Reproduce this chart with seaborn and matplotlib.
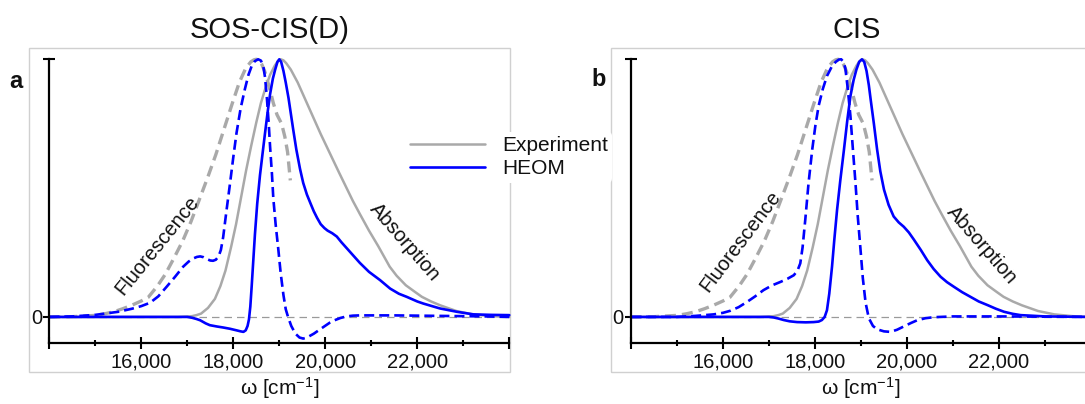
import matplotlib
matplotlib.use("Agg")
import matplotlib.pyplot as plt
from matplotlib.patches import Rectangle
from matplotlib.lines import Line2D
import seaborn as sns

# ---------------- data ----------------
titles = ["SOS-CIS(D)", "CIS"]
panel_letters = ["a", "b"]
legend_labels = ["Experiment", "HEOM"]
xtick_major = [14000, 16000, 18000, 20000, 22000, 24000]
xtick_labels = ["", "16,000", "18,000", "20,000", "22,000", ""]
xtick_minor = [15000, 17000, 19000, 21000, 23000]

# Experiment absorption (same in both panels)
exp_abs_w = [14000, 16000, 16800, 17100, 17200, 17300, 17450, 17600, 17720, 17830,
             17950, 18060, 18170, 18280, 18390, 18500, 18600, 18710, 18800, 18900,
             18970, 19030, 19090, 19150, 19250, 19400, 19550, 19700, 19900, 20100,
             20300, 20450, 20600, 20750, 20950, 21150, 21400, 21550, 21750, 21950,
             22100, 22300, 22500, 22850, 23200, 23600, 24000]
exp_abs_v = [0.0, 0.0, 0.0, 0.003, 0.007, 0.013, 0.035, 0.07, 0.12, 0.18,
             0.27, 0.36, 0.465, 0.57, 0.665, 0.755, 0.83, 0.895, 0.94, 0.975,
             0.993, 1.0, 0.996, 0.985, 0.96, 0.91, 0.85, 0.79, 0.71, 0.635,
             0.56, 0.505, 0.45, 0.40, 0.335, 0.275, 0.195, 0.16, 0.123, 0.097,
             0.078, 0.06, 0.045, 0.023, 0.01, 0.003, 0.0]

# Experiment fluorescence (same in both panels)
exp_fl_w = [14000, 14500, 15000, 15200, 15400, 15600, 15800, 16000, 16150, 16350,
            16520, 16700, 16900, 17080, 17250, 17440, 17620, 17800, 17980, 18130,
            18270, 18380, 18450, 18500, 18560, 18620, 18680, 18730, 18800, 18870,
            18950, 19050, 19120, 19180, 19240]
exp_fl_v = [0.0, 0.001, 0.006, 0.012, 0.02, 0.032, 0.046, 0.062, 0.076, 0.12,
            0.165, 0.225, 0.295, 0.37, 0.45, 0.54, 0.63, 0.73, 0.83, 0.91,
            0.965, 0.99, 0.998, 1.0, 0.997, 0.98, 0.955, 0.925, 0.88, 0.83,
            0.785, 0.75, 0.70, 0.64, 0.53]

# HEOM, panel a (SOS-CIS(D))
a_fl_w = [14000, 14500, 15000, 15500, 15800, 16000, 16190, 16370, 16550, 16730,
          16910, 17030, 17130, 17210, 17280, 17350, 17420, 17500, 17560, 17620,
          17680, 17730, 17780, 17850, 17930, 18000, 18070, 18160, 18250, 18330,
          18400, 18470, 18540, 18600, 18650, 18690, 18730, 18770, 18800, 18840,
          18870, 18920, 18980, 19030, 19090, 19140, 19190, 19260, 19350, 19440,
          19520, 19600, 19750, 19960, 20100, 20200, 20330, 20460, 20600, 20750,
          21500, 22500, 23500, 24000]
a_fl_v = [0.0, 0.002, 0.008, 0.02, 0.032, 0.042, 0.055, 0.08, 0.117, 0.155,
          0.195, 0.215, 0.227, 0.233, 0.235, 0.232, 0.225, 0.219, 0.218, 0.222,
          0.235, 0.26, 0.31, 0.41, 0.52, 0.62, 0.714, 0.81, 0.883, 0.94,
          0.974, 0.993, 1.0, 0.995, 0.975, 0.93, 0.85, 0.75, 0.66, 0.555,
          0.46, 0.36, 0.26, 0.17, 0.085, 0.03, 0.0, -0.035, -0.065, -0.08,
          -0.084, -0.08, -0.065, -0.039, -0.022, -0.013, -0.004, 0.002, 0.005, 0.006,
          0.006, 0.004, 0.002, 0.0]
a_abs_w = [14000, 16500, 17000, 17100, 17200, 17280, 17400, 17490, 17640, 17780,
           17930, 18070, 18160, 18220, 18270, 18310, 18340, 18370, 18400, 18435,
           18470, 18520, 18580, 18640, 18690, 18750, 18800, 18860, 18910, 18960,
           19000, 19040, 19090, 19140, 19200, 19250, 19300, 19370, 19450, 19520,
           19600, 19680, 19750, 19820, 19900, 19980, 20050, 20150, 20250, 20350,
           20450, 20600, 20750, 20950, 21190, 21410, 21600, 21770, 22000, 22130,
           22490, 22860, 23220, 23600, 24000]
a_abs_v = [0.0, 0.0, 0.0, -0.003, -0.008, -0.013, -0.025, -0.032, -0.037, -0.041,
           -0.046, -0.052, -0.056, -0.058, -0.052, -0.035, -0.01, 0.04, 0.12, 0.22,
           0.32, 0.44, 0.55, 0.64, 0.714, 0.80, 0.865, 0.925, 0.96, 0.99,
           1.0, 0.99, 0.955, 0.91, 0.85, 0.79, 0.73, 0.65, 0.575, 0.52,
           0.475, 0.44, 0.41, 0.385, 0.36, 0.345, 0.335, 0.325, 0.312, 0.29,
           0.27, 0.24, 0.21, 0.175, 0.143, 0.11, 0.09, 0.078, 0.06, 0.052,
           0.033, 0.02, 0.01, 0.008, 0.007]

# HEOM, panel b (CIS)
b_fl_w = [14000, 15000, 15400, 15800, 16000, 16160, 16340, 16520, 16700, 16880,
          17060, 17250, 17400, 17540, 17620, 17680, 17730, 17790, 17860, 17940,
          18010, 18080, 18170, 18260, 18360, 18450, 18520, 18570, 18620, 18660,
          18710, 18770, 18820, 18880, 18930, 18990, 19040, 19100, 19170, 19260,
          19350, 19500, 19640, 19780, 19930, 20080, 20220, 20400, 20580, 21000,
          22000, 23000, 24000]
b_fl_v = [0.0, 0.0, 0.004, 0.01, 0.016, 0.024, 0.038, 0.058, 0.08, 0.104,
          0.122, 0.136, 0.148, 0.162, 0.18, 0.208, 0.27, 0.38, 0.52, 0.65,
          0.745, 0.82, 0.885, 0.935, 0.97, 0.99, 0.999, 1.0, 0.99, 0.965,
          0.89, 0.78, 0.66, 0.52, 0.39, 0.26, 0.15, 0.055, -0.005, -0.035,
          -0.048, -0.056, -0.058, -0.05, -0.037, -0.024, -0.013, -0.005, -0.001, 0.002,
          0.002, 0.001, 0.0]
b_abs_w = [14000, 16500, 17000, 17100, 17200, 17320, 17450, 17610, 17800, 17970,
           18080, 18150, 18210, 18260, 18310, 18370, 18420, 18480, 18550, 18630,
           18700, 18770, 18840, 18900, 18960, 19020, 19070, 19120, 19170, 19210,
           19280, 19350, 19420, 19500, 19600, 19710, 19820, 19930, 20040, 20150,
           20300, 20440, 20580, 20730, 20870, 21020, 21200, 21380, 21560, 21750,
           21930, 22110, 22300, 22470, 23000, 24000]
b_abs_v = [0.0, 0.0, 0.0, -0.002, -0.006, -0.012, -0.017, -0.02, -0.021, -0.02,
           -0.018, -0.012, 0.0, 0.026, 0.09, 0.195, 0.30, 0.416, 0.53, 0.65,
           0.76, 0.857, 0.92, 0.96, 0.99, 1.0, 0.99, 0.955, 0.90, 0.844,
           0.75, 0.65, 0.565, 0.494, 0.435, 0.39, 0.367, 0.35, 0.328, 0.30,
           0.26, 0.22, 0.186, 0.156, 0.135, 0.117, 0.096, 0.078, 0.06, 0.046,
           0.032, 0.02, 0.012, 0.007, 0.002, 0.0]

heom_fl = [(a_fl_w, a_fl_v), (b_fl_w, b_fl_v)]
heom_abs = [(a_abs_w, a_abs_v), (b_abs_w, b_abs_v)]

# ---------------- style ----------------
sns.set_theme(style="white")
plt.rcParams['font.family'] = ['Liberation Sans', 'DejaVu Sans']
plt.rcParams['mathtext.fontset'] = 'custom'
plt.rcParams['mathtext.rm'] = 'Liberation Sans'
plt.rcParams['mathtext.it'] = 'Liberation Sans:italic'

GRAY = "#a9a9a9"
BLUE = "#0000ff"
TXT = "#111111"
W, H = 1085, 404

fig = plt.figure(figsize=(W / 100, H / 100), dpi=100)
fig.patch.set_facecolor("white")


def fx(px):
    return px / W


def fy(py):
    return 1 - py / H


panel = [
    dict(ax_left=49.3, frame_left=29.3, title_x=270, letter=(16, 82),
         fl=(157, 245, 51), ab=(405, 242, -49)),
    dict(ax_left=631.0, frame_left=610.5, title_x=857, letter=(599, 80),
         fl=(740, 241, 53), ab=(982, 245, -49)),
]

ax_w = 460.0
ax_top, ax_bot = 59.3, 342.7

for i, p in enumerate(panel):
    # light frame around each panel
    fig.add_artist(Rectangle((fx(p["frame_left"]), fy(371.7)), fx(480.7), (371.7 - 48) / H,
                             transform=fig.transFigure, fill=False,
                             edgecolor="#d0d0d0", lw=1.0, zorder=-1))
    ax = fig.add_axes([fx(p["ax_left"]), fy(ax_bot), fx(ax_w), (ax_bot - ax_top) / H])
    ax.set_facecolor("none")

    ax.axhline(0, color="#9a9a9a", lw=0.9, linestyle=(0, (6, 4)), zorder=1)

    sns.lineplot(x=exp_fl_w, y=exp_fl_v, ax=ax, color=GRAY, lw=2.4,
                 linestyle=(0, (3.3, 1.8)), legend=False)
    sns.lineplot(x=exp_abs_w, y=exp_abs_v, ax=ax, color=GRAY, lw=1.8, legend=False)
    sns.lineplot(x=heom_fl[i][0], y=heom_fl[i][1], ax=ax, color=BLUE, lw=1.9,
                 linestyle=(0, (3.8, 1.9)), legend=False)
    sns.lineplot(x=heom_abs[i][0], y=heom_abs[i][1], ax=ax, color=BLUE, lw=1.9,
                 legend=False)
    for ln in ax.lines:
        ln.set_clip_on(False)
        ln.set_solid_joinstyle("round")
        ln.set_dash_joinstyle("round")

    ax.set_xlim(14000, 24000)
    ax.set_ylim(-0.1, 1.0)
    for s in ["top", "right"]:
        ax.spines[s].set_visible(False)
    for s in ["left", "bottom"]:
        ax.spines[s].set_color("black")
        ax.spines[s].set_linewidth(1.6)
    ax.set_xticks(xtick_major)
    ax.set_xticklabels(xtick_labels)
    ax.set_xticks(xtick_minor, minor=True)
    ax.set_yticks([0, 1])
    ax.set_yticklabels(["0", ""])
    ax.tick_params(axis="both", which="major", direction="inout", length=8.6,
                   width=1.5, color="black", labelsize=14.5, labelcolor=TXT,
                   bottom=True, left=True)
    ax.tick_params(axis="x", which="major", pad=3)
    ax.tick_params(axis="y", which="major", pad=1)
    ax.tick_params(axis="x", which="minor", direction="inout", length=4.3,
                   width=1.5, color="black", bottom=True)
    ax.set_xlabel("")
    ax.set_ylabel("")
    ax.grid(False)

    # titles / labels
    fig.text(fx(p["title_x"]), fy(30), titles[i], ha="center", va="center",
             fontsize=21, color=TXT)
    fig.text(fx(p["letter"][0]), fy(p["letter"][1]), panel_letters[i], ha="center",
             va="center", fontsize=17, fontweight="bold", color=TXT)
    fig.text(fx(p["ax_left"] + ax_w / 2), fy(388), r"ω [cm$^{\mathregular{-1}}$]",
             ha="center", va="center", fontsize=15, color=TXT)
    fx_, fy_, fr = p["fl"]
    fig.text(fx(fx_), fy(fy_), "Fluorescence", rotation=fr, rotation_mode="anchor",
             ha="center", va="center", fontsize=14.5, color=TXT)
    ax_, ay_, ar = p["ab"]
    fig.text(fx(ax_), fy(ay_), "Absorption", rotation=ar, rotation_mode="anchor",
             ha="center", va="center", fontsize=14.5, color=TXT)

    if i == 0:
        handles = [Line2D([], [], color=GRAY, lw=1.8), Line2D([], [], color=BLUE, lw=1.9)]
        leg = ax.legend(handles, legend_labels, loc="upper left",
                        bbox_to_anchor=(fx(406), fy(132)), bbox_transform=fig.transFigure,
                        frameon=True, facecolor="white", edgecolor="none", framealpha=1,
                        fontsize=15, handlelength=3.6, handletextpad=0.8,
                        borderpad=0.2, labelspacing=0.2, borderaxespad=0)
        for t in leg.get_texts():
            t.set_color(TXT)

fig.savefig("out.png", dpi=100)
